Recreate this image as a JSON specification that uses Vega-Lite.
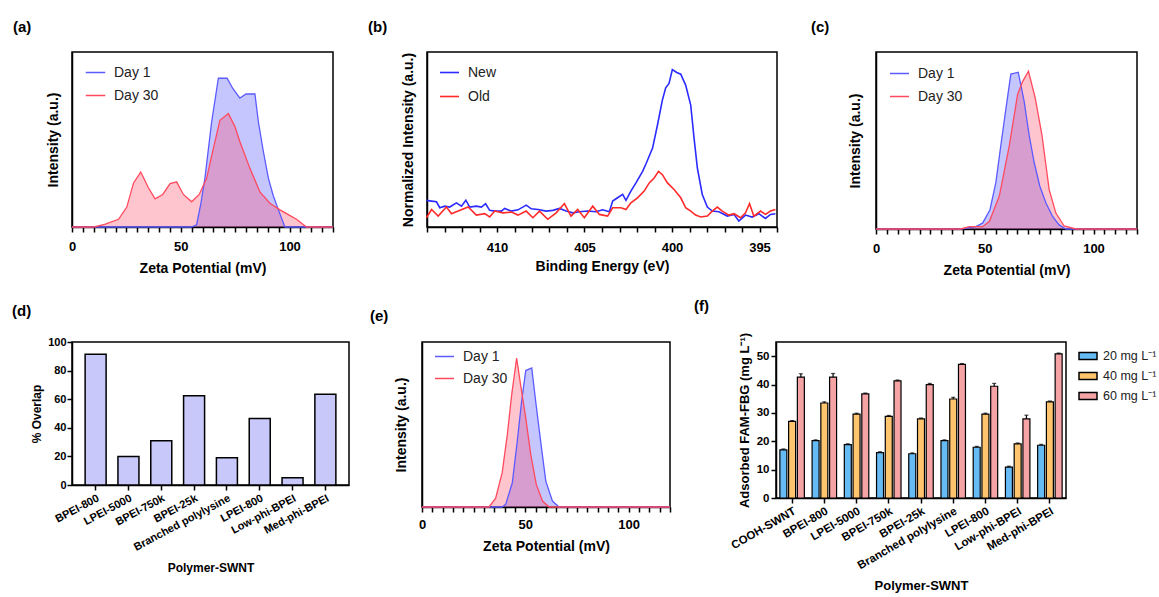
{
  "$schema": "https://vega.github.io/schema/vega-lite/v6.json",
  "padding": {"left": 11, "top": 19, "right": 0, "bottom": 0},
  "background": "white",
  "config": {
    "font": "Liberation Sans",
    "view": {"stroke": "black", "strokeWidth": 1.5},
    "axis": {"domainColor": "black", "domainWidth": 1.5, "tickColor": "black", "tickWidth": 1.5, "tickSize": 5, "labelColor": "black", "titleColor": "black", "labelFontWeight": "bold", "titleFontWeight": "bold", "grid": false, "labelFont": "Liberation Sans", "titleFont": "Liberation Sans", "labelFlush": false, "labelOverlap": false},
    "title": {"anchor": "start", "frame": "group", "fontSize": 15, "fontWeight": "bold", "color": "black", "font": "Liberation Sans"},
    "legend": {"labelFont": "Liberation Sans", "labelColor": "#222222"}
  },
  "resolve": {"scale": {"stroke": "independent", "color": "independent"}, "legend": {"stroke": "independent", "color": "independent"}},
  "vconcat": [
    {
      "spacing": 30,
      "resolve": {"scale": {"stroke": "independent", "color": "independent"}, "legend": {"stroke": "independent", "color": "independent"}},
      "hconcat": [
        {
          "title": {"text": "(a)", "dx": -59, "offset": 17},
          "width": 261, "height": 175,
          "data": {"values": [
            {"x": 0, "y": 0, "s": "Day 1"}, {"x": 55, "y": 0, "s": "Day 1"}, {"x": 57.3, "y": 0.013, "s": "Day 1"}, {"x": 59.2, "y": 0.13, "s": "Day 1"}, {"x": 61.1, "y": 0.278, "s": "Day 1"}, {"x": 64.2, "y": 0.6, "s": "Day 1"}, {"x": 67.3, "y": 0.85, "s": "Day 1"}, {"x": 71.3, "y": 0.85, "s": "Day 1"}, {"x": 74, "y": 0.79, "s": "Day 1"}, {"x": 77.2, "y": 0.737, "s": "Day 1"}, {"x": 80, "y": 0.76, "s": "Day 1"}, {"x": 84.1, "y": 0.761, "s": "Day 1"}, {"x": 85.7, "y": 0.6, "s": "Day 1"}, {"x": 88, "y": 0.43, "s": "Day 1"}, {"x": 90.3, "y": 0.278, "s": "Day 1"}, {"x": 92.5, "y": 0.18, "s": "Day 1"}, {"x": 94.9, "y": 0.098, "s": "Day 1"}, {"x": 97.9, "y": 0, "s": "Day 1"}, {"x": 120, "y": 0, "s": "Day 1"},
            {"x": 0, "y": 0, "s": "Day 30"}, {"x": 10, "y": 0, "s": "Day 30"}, {"x": 15, "y": 0.015, "s": "Day 30"}, {"x": 21.4, "y": 0.044, "s": "Day 30"}, {"x": 25.2, "y": 0.114, "s": "Day 30"}, {"x": 28.3, "y": 0.252, "s": "Day 30"}, {"x": 31.6, "y": 0.314, "s": "Day 30"}, {"x": 35.2, "y": 0.223, "s": "Day 30"}, {"x": 38.2, "y": 0.161, "s": "Day 30"}, {"x": 41.7, "y": 0.186, "s": "Day 30"}, {"x": 45.1, "y": 0.248, "s": "Day 30"}, {"x": 48.1, "y": 0.258, "s": "Day 30"}, {"x": 51.2, "y": 0.186, "s": "Day 30"}, {"x": 55, "y": 0.144, "s": "Day 30"}, {"x": 58.5, "y": 0.186, "s": "Day 30"}, {"x": 61.9, "y": 0.278, "s": "Day 30"}, {"x": 65, "y": 0.449, "s": "Day 30"}, {"x": 68, "y": 0.61, "s": "Day 30"}, {"x": 71.9, "y": 0.648, "s": "Day 30"}, {"x": 74.9, "y": 0.574, "s": "Day 30"}, {"x": 77.2, "y": 0.487, "s": "Day 30"}, {"x": 81.8, "y": 0.335, "s": "Day 30"}, {"x": 86.4, "y": 0.2, "s": "Day 30"}, {"x": 91, "y": 0.136, "s": "Day 30"}, {"x": 95.6, "y": 0.098, "s": "Day 30"}, {"x": 100.3, "y": 0.065, "s": "Day 30"}, {"x": 103.2, "y": 0.044, "s": "Day 30"}, {"x": 107.8, "y": 0, "s": "Day 30"}, {"x": 120, "y": 0, "s": "Day 30"}
          ]},
          "encoding": {
            "x": {"field": "x", "type": "quantitative", "scale": {"domain": [0, 120], "nice": false}, "axis": {"title": "Zeta Potential (mV)", "values": [0,5,10,15,20,25,30,35,40,45,50,55,60,65,70,75,80,85,90,95,100,105,110,115,120], "labelExpr": "datum.value % 50 === 0 ? datum.label : ''", "labelFontSize": 13, "titleFontSize": 14, "labelPadding": 8, "titlePadding": 8}},
            "y": {"field": "y", "type": "quantitative", "stack": null, "scale": {"domain": [0, 1], "nice": false}, "axis": {"title": "Intensity (a.u.)", "ticks": false, "labels": false, "titleFontSize": 14, "titlePadding": 12}}
          },
          "layer": [
            {"transform": [{"filter": "datum.s === 'Day 1'"}], "mark": {"type": "area", "fill": "#7070ff", "fillOpacity": 0.4}},
            {"transform": [{"filter": "datum.s === 'Day 30'"}], "mark": {"type": "area", "fill": "#ff4060", "fillOpacity": 0.3}},
            {"mark": {"type": "line", "strokeWidth": 1.3}, "encoding": {"stroke": {"field": "s", "type": "nominal", "scale": {"domain": ["Day 1", "Day 30"], "range": ["#5b5bff", "#ff4a5e"]}, "legend": {"title": null, "orient": "none", "legendX": 13, "legendY": 10, "symbolType": "stroke", "symbolStrokeWidth": 1.5, "symbolSize": 380, "labelFontSize": 14, "labelFontWeight": "normal", "labelOffset": 8, "rowPadding": 5}}}}
          ]
        },
        {
          "title": {"text": "(b)", "dx": -59, "offset": 17},
          "width": 350, "height": 175,
          "data": {"values": [
            {"x": 414.03, "y": 0.152, "s": "New"}, {"x": 413.74, "y": 0.148, "s": "New"}, {"x": 413.46, "y": 0.144, "s": "New"}, {"x": 413.27, "y": 0.11, "s": "New"}, {"x": 412.98, "y": 0.119, "s": "New"}, {"x": 412.7, "y": 0.114, "s": "New"}, {"x": 412.32, "y": 0.138, "s": "New"}, {"x": 412.03, "y": 0.119, "s": "New"}, {"x": 411.78, "y": 0.153, "s": "New"}, {"x": 411.56, "y": 0.114, "s": "New"}, {"x": 411.18, "y": 0.119, "s": "New"}, {"x": 410.89, "y": 0.114, "s": "New"}, {"x": 410.65, "y": 0.133, "s": "New"}, {"x": 410.42, "y": 0.095, "s": "New"}, {"x": 410.13, "y": 0.091, "s": "New"}, {"x": 409.75, "y": 0.091, "s": "New"}, {"x": 409.56, "y": 0.106, "s": "New"}, {"x": 409.18, "y": 0.091, "s": "New"}, {"x": 408.8, "y": 0.098, "s": "New"}, {"x": 408.33, "y": 0.125, "s": "New"}, {"x": 408.04, "y": 0.104, "s": "New"}, {"x": 407.66, "y": 0.1, "s": "New"}, {"x": 407.19, "y": 0.091, "s": "New"}, {"x": 406.81, "y": 0.095, "s": "New"}, {"x": 406.43, "y": 0.106, "s": "New"}, {"x": 406.05, "y": 0.091, "s": "New"}, {"x": 405.67, "y": 0.081, "s": "New"}, {"x": 405.29, "y": 0.087, "s": "New"}, {"x": 404.82, "y": 0.091, "s": "New"}, {"x": 404.34, "y": 0.087, "s": "New"}, {"x": 403.96, "y": 0.098, "s": "New"}, {"x": 403.58, "y": 0.087, "s": "New"}, {"x": 403.39, "y": 0.148, "s": "New"}, {"x": 403.11, "y": 0.167, "s": "New"}, {"x": 402.82, "y": 0.186, "s": "New"}, {"x": 402.63, "y": 0.152, "s": "New"}, {"x": 402.35, "y": 0.205, "s": "New"}, {"x": 402.06, "y": 0.252, "s": "New"}, {"x": 401.68, "y": 0.318, "s": "New"}, {"x": 401.49, "y": 0.36, "s": "New"}, {"x": 401.11, "y": 0.451, "s": "New"}, {"x": 400.83, "y": 0.583, "s": "New"}, {"x": 400.55, "y": 0.725, "s": "New"}, {"x": 400.36, "y": 0.795, "s": "New"}, {"x": 400.17, "y": 0.82, "s": "New"}, {"x": 399.98, "y": 0.9, "s": "New"}, {"x": 399.73, "y": 0.883, "s": "New"}, {"x": 399.5, "y": 0.873, "s": "New"}, {"x": 399.22, "y": 0.811, "s": "New"}, {"x": 398.93, "y": 0.697, "s": "New"}, {"x": 398.74, "y": 0.508, "s": "New"}, {"x": 398.55, "y": 0.337, "s": "New"}, {"x": 398.27, "y": 0.186, "s": "New"}, {"x": 397.98, "y": 0.114, "s": "New"}, {"x": 397.7, "y": 0.091, "s": "New"}, {"x": 397.32, "y": 0.087, "s": "New"}, {"x": 396.84, "y": 0.0625, "s": "New"}, {"x": 396.46, "y": 0.072, "s": "New"}, {"x": 396.18, "y": 0.034, "s": "New"}, {"x": 395.8, "y": 0.068, "s": "New"}, {"x": 395.42, "y": 0.057, "s": "New"}, {"x": 395.04, "y": 0.076, "s": "New"}, {"x": 394.66, "y": 0.049, "s": "New"}, {"x": 394.37, "y": 0.072, "s": "New"}, {"x": 394.09, "y": 0.076, "s": "New"},
            {"x": 414.03, "y": 0.053, "s": "Old"}, {"x": 413.74, "y": 0.1, "s": "Old"}, {"x": 413.36, "y": 0.062, "s": "Old"}, {"x": 412.89, "y": 0.114, "s": "Old"}, {"x": 412.6, "y": 0.076, "s": "Old"}, {"x": 412.22, "y": 0.091, "s": "Old"}, {"x": 411.65, "y": 0.114, "s": "Old"}, {"x": 411.18, "y": 0.068, "s": "Old"}, {"x": 410.7, "y": 0.076, "s": "Old"}, {"x": 410.42, "y": 0.057, "s": "Old"}, {"x": 410.13, "y": 0.091, "s": "Old"}, {"x": 409.66, "y": 0.081, "s": "Old"}, {"x": 409.18, "y": 0.085, "s": "Old"}, {"x": 408.8, "y": 0.068, "s": "Old"}, {"x": 408.33, "y": 0.091, "s": "Old"}, {"x": 407.95, "y": 0.053, "s": "Old"}, {"x": 407.57, "y": 0.091, "s": "Old"}, {"x": 407.1, "y": 0.044, "s": "Old"}, {"x": 406.62, "y": 0.081, "s": "Old"}, {"x": 406.15, "y": 0.134, "s": "Old"}, {"x": 405.77, "y": 0.062, "s": "Old"}, {"x": 405.39, "y": 0.1, "s": "Old"}, {"x": 405.01, "y": 0.053, "s": "Old"}, {"x": 404.53, "y": 0.119, "s": "Old"}, {"x": 404.15, "y": 0.072, "s": "Old"}, {"x": 403.68, "y": 0.0625, "s": "Old"}, {"x": 403.39, "y": 0.11, "s": "Old"}, {"x": 402.92, "y": 0.11, "s": "Old"}, {"x": 402.63, "y": 0.1, "s": "Old"}, {"x": 402.35, "y": 0.138, "s": "Old"}, {"x": 401.97, "y": 0.167, "s": "Old"}, {"x": 401.59, "y": 0.205, "s": "Old"}, {"x": 401.3, "y": 0.252, "s": "Old"}, {"x": 401.02, "y": 0.28, "s": "Old"}, {"x": 400.77, "y": 0.318, "s": "Old"}, {"x": 400.55, "y": 0.299, "s": "Old"}, {"x": 400.26, "y": 0.252, "s": "Old"}, {"x": 399.88, "y": 0.214, "s": "Old"}, {"x": 399.5, "y": 0.167, "s": "Old"}, {"x": 399.22, "y": 0.11, "s": "Old"}, {"x": 398.93, "y": 0.091, "s": "Old"}, {"x": 398.65, "y": 0.068, "s": "Old"}, {"x": 398.36, "y": 0.057, "s": "Old"}, {"x": 397.98, "y": 0.0625, "s": "Old"}, {"x": 397.7, "y": 0.091, "s": "Old"}, {"x": 397.41, "y": 0.114, "s": "Old"}, {"x": 397.13, "y": 0.091, "s": "Old"}, {"x": 396.75, "y": 0.068, "s": "Old"}, {"x": 396.46, "y": 0.076, "s": "Old"}, {"x": 396.08, "y": 0.053, "s": "Old"}, {"x": 395.8, "y": 0.081, "s": "Old"}, {"x": 395.57, "y": 0.133, "s": "Old"}, {"x": 395.32, "y": 0.062, "s": "Old"}, {"x": 394.94, "y": 0.091, "s": "Old"}, {"x": 394.66, "y": 0.072, "s": "Old"}, {"x": 394.37, "y": 0.091, "s": "Old"}, {"x": 394.09, "y": 0.1, "s": "Old"}
          ]},
          "mark": {"type": "line", "strokeWidth": 1.6},
          "encoding": {
            "x": {"field": "x", "type": "quantitative", "sort": null, "scale": {"domain": [394, 414], "nice": false, "reverse": true}, "axis": {"title": "Binding Energy (eV)", "values": [394,395,396,397,398,399,400,401,402,403,404,405,406,407,408,409,410,411,412,413,414], "labelExpr": "datum.value % 5 === 0 ? datum.label : ''", "labelFontSize": 13, "titleFontSize": 14, "labelPadding": 9, "titlePadding": 5}},
            "y": {"field": "y", "type": "quantitative", "scale": {"domain": [0, 1], "nice": false}, "axis": {"title": "Normalized Intensity (a.u.)", "ticks": false, "labels": false, "titleFontSize": 14, "titlePadding": 12}},
            "stroke": {"field": "s", "type": "nominal", "scale": {"domain": ["New", "Old"], "range": ["#2b2bff", "#ff2a2a"]}, "legend": {"title": null, "orient": "none", "legendX": 12, "legendY": 10, "symbolType": "stroke", "symbolStrokeWidth": 1.6, "symbolSize": 361, "labelFontSize": 14, "labelFontWeight": "normal", "labelOffset": 8, "rowPadding": 6}}
          }
        },
        {
          "title": {"text": "(c)", "dx": -65, "offset": 17},
          "width": 261, "height": 177,
          "data": {"values": [
            {"x": 0, "y": 0, "s": "Day 1"}, {"x": 39, "y": 0, "s": "Day 1"}, {"x": 45.9, "y": 0.013, "s": "Day 1"}, {"x": 49, "y": 0.033, "s": "Day 1"}, {"x": 52.4, "y": 0.109, "s": "Day 1"}, {"x": 55.1, "y": 0.262, "s": "Day 1"}, {"x": 57.4, "y": 0.473, "s": "Day 1"}, {"x": 60, "y": 0.703, "s": "Day 1"}, {"x": 62, "y": 0.875, "s": "Day 1"}, {"x": 65.4, "y": 0.885, "s": "Day 1"}, {"x": 68.1, "y": 0.722, "s": "Day 1"}, {"x": 70.4, "y": 0.531, "s": "Day 1"}, {"x": 72.7, "y": 0.377, "s": "Day 1"}, {"x": 75.3, "y": 0.243, "s": "Day 1"}, {"x": 78.1, "y": 0.148, "s": "Day 1"}, {"x": 81.2, "y": 0.071, "s": "Day 1"}, {"x": 84.2, "y": 0.023, "s": "Day 1"}, {"x": 87.3, "y": 0, "s": "Day 1"}, {"x": 120, "y": 0, "s": "Day 1"},
            {"x": 0, "y": 0, "s": "Day 30"}, {"x": 39, "y": 0, "s": "Day 30"}, {"x": 42.9, "y": 0.013, "s": "Day 30"}, {"x": 49, "y": 0.013, "s": "Day 30"}, {"x": 52.1, "y": 0.042, "s": "Day 30"}, {"x": 56.7, "y": 0.186, "s": "Day 30"}, {"x": 61.3, "y": 0.473, "s": "Day 30"}, {"x": 65.1, "y": 0.76, "s": "Day 30"}, {"x": 67.4, "y": 0.833, "s": "Day 30"}, {"x": 70.1, "y": 0.891, "s": "Day 30"}, {"x": 73.2, "y": 0.741, "s": "Day 30"}, {"x": 76.3, "y": 0.531, "s": "Day 30"}, {"x": 79.6, "y": 0.224, "s": "Day 30"}, {"x": 82.7, "y": 0.09, "s": "Day 30"}, {"x": 86.5, "y": 0.017, "s": "Day 30"}, {"x": 91.9, "y": 0, "s": "Day 30"}, {"x": 120, "y": 0, "s": "Day 30"}
          ]},
          "encoding": {
            "x": {"field": "x", "type": "quantitative", "scale": {"domain": [0, 120], "nice": false}, "axis": {"title": "Zeta Potential (mV)", "values": [0,5,10,15,20,25,30,35,40,45,50,55,60,65,70,75,80,85,90,95,100,105,110,115,120], "labelExpr": "datum.value % 50 === 0 ? datum.label : ''", "labelFontSize": 13, "titleFontSize": 14, "labelPadding": 8, "titlePadding": 8}},
            "y": {"field": "y", "type": "quantitative", "stack": null, "scale": {"domain": [0, 1], "nice": false}, "axis": {"title": "Intensity (a.u.)", "ticks": false, "labels": false, "titleFontSize": 14, "titlePadding": 14}}
          },
          "layer": [
            {"transform": [{"filter": "datum.s === 'Day 1'"}], "mark": {"type": "area", "fill": "#7070ff", "fillOpacity": 0.4}},
            {"transform": [{"filter": "datum.s === 'Day 30'"}], "mark": {"type": "area", "fill": "#ff4060", "fillOpacity": 0.3}},
            {"mark": {"type": "line", "strokeWidth": 1.3}, "encoding": {"stroke": {"field": "s", "type": "nominal", "scale": {"domain": ["Day 1", "Day 30"], "range": ["#5b5bff", "#ff4a5e"]}, "legend": {"title": null, "orient": "none", "legendX": 13, "legendY": 11, "symbolType": "stroke", "symbolStrokeWidth": 1.5, "symbolSize": 361, "labelFontSize": 14, "labelFontWeight": "normal", "labelOffset": 8, "rowPadding": 5}}}}
          ]
        }
      ]
    },
    {
      "spacing": 19,
      "resolve": {"scale": {"stroke": "independent", "color": "independent"}, "legend": {"stroke": "independent", "color": "independent"}},
      "hconcat": [
        {
          "title": {"text": "(d)", "dx": -60, "offset": 17},
          "width": 277, "height": 143,
          "data": {"values": [
            {"polymer": "BPEI-800", "overlap": 91.5},
            {"polymer": "LPEI-5000", "overlap": 20},
            {"polymer": "BPEI-750k", "overlap": 31},
            {"polymer": "BPEI-25k", "overlap": 62.5},
            {"polymer": "Branched polylysine", "overlap": 19},
            {"polymer": "LPEI-800", "overlap": 46.5},
            {"polymer": "Low-phi-BPEI", "overlap": 5},
            {"polymer": "Med-phi-BPEI", "overlap": 63.5}
          ]},
          "mark": {"type": "bar", "fill": "#c8c8fa", "stroke": "black", "strokeWidth": 1.5},
          "encoding": {
            "x": {"field": "polymer", "type": "nominal", "sort": null, "scale": {"paddingInner": 0.36, "paddingOuter": 0.4}, "axis": {"title": "Polymer-SWNT", "labelAngle": -28, "labelFontSize": 11, "titleFontSize": 12, "labelPadding": 2, "titlePadding": 10}},
            "y": {"field": "overlap", "type": "quantitative", "scale": {"domain": [0, 100], "nice": false}, "axis": {"title": "% Overlap", "values": [0, 20, 40, 60, 80, 100], "labelFontSize": 11, "titleFontSize": 12, "labelPadding": 1, "titlePadding": 4}}
          }
        },
        {
          "title": {"text": "(e)", "dx": -52, "offset": 18},
          "width": 248, "height": 165,
          "data": {"values": [
            {"x": 0, "y": 0, "s": "Day 1"}, {"x": 38.8, "y": 0, "s": "Day 1"}, {"x": 40.5, "y": 0.016, "s": "Day 1"}, {"x": 43.7, "y": 0.147, "s": "Day 1"}, {"x": 46.1, "y": 0.399, "s": "Day 1"}, {"x": 48.2, "y": 0.641, "s": "Day 1"}, {"x": 50.2, "y": 0.827, "s": "Day 1"}, {"x": 53.1, "y": 0.843, "s": "Day 1"}, {"x": 55, "y": 0.641, "s": "Day 1"}, {"x": 57.4, "y": 0.399, "s": "Day 1"}, {"x": 59.9, "y": 0.157, "s": "Day 1"}, {"x": 63.1, "y": 0.036, "s": "Day 1"}, {"x": 66.3, "y": 0, "s": "Day 1"}, {"x": 120, "y": 0, "s": "Day 1"},
            {"x": 0, "y": 0, "s": "Day 30"}, {"x": 32.4, "y": 0, "s": "Day 30"}, {"x": 35.6, "y": 0.052, "s": "Day 30"}, {"x": 38.8, "y": 0.208, "s": "Day 30"}, {"x": 41.3, "y": 0.44, "s": "Day 30"}, {"x": 43.4, "y": 0.681, "s": "Day 30"}, {"x": 45.8, "y": 0.903, "s": "Day 30"}, {"x": 47.7, "y": 0.742, "s": "Day 30"}, {"x": 50.2, "y": 0.54, "s": "Day 30"}, {"x": 52.6, "y": 0.319, "s": "Day 30"}, {"x": 55.3, "y": 0.137, "s": "Day 30"}, {"x": 58.3, "y": 0.036, "s": "Day 30"}, {"x": 61.5, "y": 0, "s": "Day 30"}, {"x": 120, "y": 0, "s": "Day 30"}
          ]},
          "encoding": {
            "x": {"field": "x", "type": "quantitative", "scale": {"domain": [0, 120], "nice": false}, "axis": {"title": "Zeta Potential (mV)", "values": [0,5,10,15,20,25,30,35,40,45,50,55,60,65,70,75,80,85,90,95,100,105,110,115,120], "labelExpr": "datum.value % 50 === 0 ? datum.label : ''", "labelFontSize": 13, "titleFontSize": 14, "labelPadding": 6, "titlePadding": 8}},
            "y": {"field": "y", "type": "quantitative", "stack": null, "scale": {"domain": [0, 1], "nice": false}, "axis": {"title": "Intensity (a.u.)", "ticks": false, "labels": false, "titleFontSize": 14, "titlePadding": 14}}
          },
          "layer": [
            {"transform": [{"filter": "datum.s === 'Day 1'"}], "mark": {"type": "area", "fill": "#7070ff", "fillOpacity": 0.4}},
            {"transform": [{"filter": "datum.s === 'Day 30'"}], "mark": {"type": "area", "fill": "#ff4060", "fillOpacity": 0.3}},
            {"mark": {"type": "line", "strokeWidth": 1.3}, "encoding": {"stroke": {"field": "s", "type": "nominal", "scale": {"domain": ["Day 1", "Day 30"], "range": ["#5b5bff", "#ff4a5e"]}, "legend": {"title": null, "orient": "none", "legendX": 12, "legendY": 4, "symbolType": "stroke", "symbolStrokeWidth": 1.5, "symbolSize": 361, "labelFontSize": 14, "labelFontWeight": "normal", "labelOffset": 8, "rowPadding": 4}}}}
          ]
        },
        {
          "title": {"text": "(f)", "dx": -82, "offset": 18},
          "width": 290, "height": 156,
          "data": {"values": [
            {"polymer": "COOH-SWNT", "conc": "20 mg L⁻¹", "value": 17, "hi": 17.3},
            {"polymer": "COOH-SWNT", "conc": "40 mg L⁻¹", "value": 27, "hi": 27.3},
            {"polymer": "COOH-SWNT", "conc": "60 mg L⁻¹", "value": 42.6, "hi": 43.8},
            {"polymer": "BPEI-800", "conc": "20 mg L⁻¹", "value": 20.2, "hi": 20.5},
            {"polymer": "BPEI-800", "conc": "40 mg L⁻¹", "value": 33.5, "hi": 33.9},
            {"polymer": "BPEI-800", "conc": "60 mg L⁻¹", "value": 42.6, "hi": 43.9},
            {"polymer": "LPEI-5000", "conc": "20 mg L⁻¹", "value": 18.8, "hi": 19.1},
            {"polymer": "LPEI-5000", "conc": "40 mg L⁻¹", "value": 29.6, "hi": 29.9},
            {"polymer": "LPEI-5000", "conc": "60 mg L⁻¹", "value": 36.7, "hi": 37},
            {"polymer": "BPEI-750k", "conc": "20 mg L⁻¹", "value": 16, "hi": 16.3},
            {"polymer": "BPEI-750k", "conc": "40 mg L⁻¹", "value": 28.8, "hi": 29.1},
            {"polymer": "BPEI-750k", "conc": "60 mg L⁻¹", "value": 41.3, "hi": 41.6},
            {"polymer": "BPEI-25k", "conc": "20 mg L⁻¹", "value": 15.6, "hi": 15.9},
            {"polymer": "BPEI-25k", "conc": "40 mg L⁻¹", "value": 27.9, "hi": 28.2},
            {"polymer": "BPEI-25k", "conc": "60 mg L⁻¹", "value": 40, "hi": 40.4},
            {"polymer": "Branched polylysine", "conc": "20 mg L⁻¹", "value": 20.2, "hi": 20.5},
            {"polymer": "Branched polylysine", "conc": "40 mg L⁻¹", "value": 34.9, "hi": 35.5},
            {"polymer": "Branched polylysine", "conc": "60 mg L⁻¹", "value": 47.1, "hi": 47.4},
            {"polymer": "LPEI-800", "conc": "20 mg L⁻¹", "value": 17.9, "hi": 18.2},
            {"polymer": "LPEI-800", "conc": "40 mg L⁻¹", "value": 29.6, "hi": 29.9},
            {"polymer": "LPEI-800", "conc": "60 mg L⁻¹", "value": 39.4, "hi": 40.4},
            {"polymer": "Low-phi-BPEI", "conc": "20 mg L⁻¹", "value": 10.9, "hi": 11.2},
            {"polymer": "Low-phi-BPEI", "conc": "40 mg L⁻¹", "value": 19.1, "hi": 19.4},
            {"polymer": "Low-phi-BPEI", "conc": "60 mg L⁻¹", "value": 27.9, "hi": 29.2},
            {"polymer": "Med-phi-BPEI", "conc": "20 mg L⁻¹", "value": 18.6, "hi": 18.9},
            {"polymer": "Med-phi-BPEI", "conc": "40 mg L⁻¹", "value": 33.9, "hi": 34.2},
            {"polymer": "Med-phi-BPEI", "conc": "60 mg L⁻¹", "value": 50.8, "hi": 51.1}
          ]},
          "encoding": {
            "x": {"field": "polymer", "type": "nominal", "sort": null, "scale": {"paddingInner": 0.24, "paddingOuter": 0.12}, "axis": {"title": "Polymer-SWNT", "labelAngle": -30, "labelFontSize": 11.5, "titleFontSize": 13, "labelPadding": 2, "titlePadding": 8}},
            "xOffset": {"field": "conc", "type": "nominal", "sort": null, "scale": {"paddingInner": 0.2, "paddingOuter": 0}}
          },
          "layer": [
            {
              "mark": {"type": "bar", "stroke": "black", "strokeWidth": 1.2},
              "encoding": {
                "y": {"field": "value", "type": "quantitative", "scale": {"domain": [0, 55], "nice": false}, "axis": {"title": "Adsorbed FAM-FBG (mg L⁻¹)", "values": [0, 10, 20, 30, 40, 50], "labelOverlap": false, "labelFontSize": 11.5, "titleFontSize": 13, "labelPadding": 2, "titlePadding": 5}},
                "color": {"field": "conc", "type": "nominal", "scale": {"domain": ["20 mg L⁻¹", "40 mg L⁻¹", "60 mg L⁻¹"], "range": ["#66bbf5", "#ffc46e", "#f6a3a6"]}, "legend": {"title": null, "orient": "right", "symbolType": "M-1,-0.4L1,-0.4L1,0.4L-1,0.4Z", "symbolSize": 324, "symbolStrokeColor": "black", "symbolStrokeWidth": 1.5, "labelFontSize": 12.5, "labelFontWeight": "normal", "offset": 8, "padding": 4, "rowPadding": 3, "labelOffset": 5}}
              }
            },
            {
              "mark": {"type": "rule", "color": "black", "strokeWidth": 1.2},
              "encoding": {"y": {"field": "value", "type": "quantitative", "scale": {"domain": [0, 55], "nice": false}, "axis": {"title": "Adsorbed FAM-FBG (mg L⁻¹)", "values": [0, 10, 20, 30, 40, 50], "labelOverlap": false, "labelFontSize": 11.5, "titleFontSize": 13, "labelPadding": 2, "titlePadding": 5}}, "y2": {"field": "hi"}}
            },
            {
              "mark": {"type": "tick", "color": "black", "orient": "horizontal", "size": 4, "thickness": 1.2},
              "encoding": {"y": {"field": "hi", "type": "quantitative", "scale": {"domain": [0, 55], "nice": false}, "axis": {"title": "Adsorbed FAM-FBG (mg L⁻¹)", "values": [0, 10, 20, 30, 40, 50], "labelOverlap": false, "labelFontSize": 11.5, "titleFontSize": 13, "labelPadding": 2, "titlePadding": 5}}}
            }
          ]
        }
      ]
    }
  ],
  "spacing": 20
}
